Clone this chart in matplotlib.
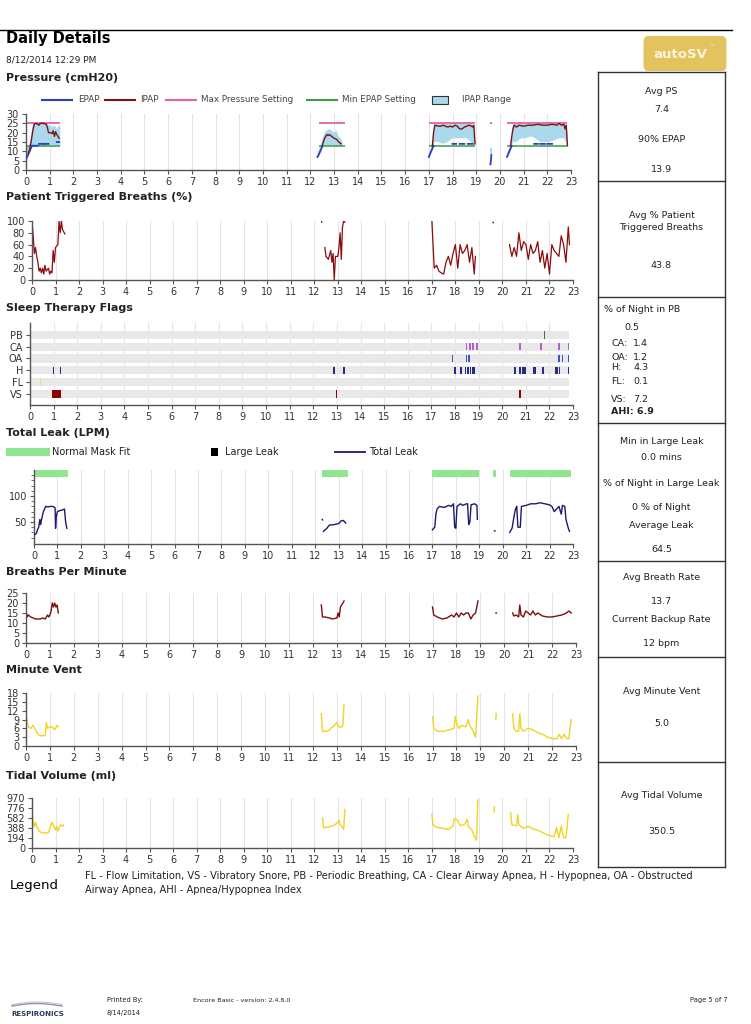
import numpy as np
import matplotlib
matplotlib.use("Agg")
import matplotlib.pyplot as plt
from matplotlib.patches import Rectangle, FancyBboxPatch
from matplotlib.lines import Line2D

plt.rcParams['font.family'] = ['DejaVu Sans']
nan = np.nan

W, H = 751, 1024
HOURS = list(range(0, 24))

# ---------------- Pressure (cmH2O) ----------------
ipap_t = [0.1,0.15,0.2,0.25,0.3,0.35,0.4,0.5,0.55,0.6,0.7,0.8,0.85,0.9,0.95,1.0,1.05,1.1,1.15,1.2,1.25,1.3,1.35,1.4, nan,
          12.5,12.55,12.6,12.7,12.75,12.8,12.9,13.0,13.1,13.2,13.3, nan,
          17.15,17.2,17.25,17.4,17.5,17.6,17.8,17.9,18.0,18.1,18.2,18.3,18.4,18.5,18.6,18.7,18.8,18.85,18.9,18.95, nan,
          20.45,20.5,20.55,20.6,20.7,20.8,21.0,21.2,21.4,21.6,21.8,22.0,22.2,22.4,22.5,22.6,22.7,22.75,22.8,22.85]
ipap_v = [9,11,14,18,22,24.5,25,24.5,24,25,25,24.8,24.5,23,20,20,20,19.5,21,18,20.5,19,18,17, nan,
          13,15,17,19,18.5,19,18,17,16.5,15,14, nan,
          13,20,24,23.5,23.5,24,23,23.5,23,24,23.5,22,22,23,23.5,24,23.5,23,24,14, nan,
          13,18,22,24,23,24,23.5,24,24,24.5,24,24,24.5,24,25,24,24.5,22,24,13]
epap_t = [0.0,0.05,0.1,0.15,0.2,0.25,0.3,0.5, nan,0.55,0.75, nan,0.8,0.95, nan,1.3,1.4, nan,
          12.3,12.35,12.4,12.45,12.5, nan,
          17.0,17.05,17.1,17.15,17.2, nan,18.0,18.15, nan,18.3,18.5, nan,18.65,18.85, nan,
          19.6,19.62,19.64, nan,
          20.3,20.35,20.4,20.45,20.5, nan,21.45,21.6, nan,21.7,21.9, nan,22.0,22.2]
epap_v = [6,7,8.5,10,11.5,13,13,13, nan,14,14, nan,14,14, nan,15,15, nan,
          7,8,9.5,11,12.5, nan,
          7,8.5,10,11.5,13, nan,14,14, nan,14,14, nan,14,14, nan,
          3,5,8, nan,
          7,8.5,10,11.5,13, nan,14,14, nan,14,14, nan,14,14]
range_t = [0.0,0.05,0.1,0.15,0.2,0.25,0.3,0.35,0.4,0.5,0.6,0.7,0.8,0.9,0.95,1.0,1.1,1.2,1.3,1.4,1.45, nan,
           12.3,12.4,12.5,12.6,12.7,12.8,12.9,13.0,13.1,13.2,13.3,13.35, nan,
           17.0,17.1,17.2,17.25,17.4,17.6,17.8,18.0,18.2,18.4,18.6,18.8,18.9,18.95, nan,
           19.58,19.66, nan,
           20.3,20.4,20.5,20.55,20.7,20.9,21.1,21.3,21.5,21.7,21.9,22.1,22.3,22.5,22.7,22.8,22.85]
range_lo = [5,6,8,10,12,13,13,13,13,13,13,13,13,13,13,13,13,13,13,13,13, nan,
            7,9,12,13,13,13,13,13,13,13,13,13, nan,
            7,10,13,15,15,14,15,17,17,17,17,15,13,13, nan,
            8,8, nan,
            7,10,13,15,15,17,17,18,17,15,15,15,16,17,17,15,13]
range_hi = [13,13,13,14,17,21,25,25,25,25,25,25,25,25,24,24,23,24,22,24,23, nan,
            9,12,16,20,21,22,21,20,21,18,17,15, nan,
            9,12,20,25,25,25,25,25,25,25,25,25,24,20, nan,
            12,12, nan,
            9,12,18,25,25,25,25,25,25,25,25,25,25,25,25,24,20]
setting_start = [0.0, 12.35, 17.0, 20.3]
setting_end = [1.45, 13.45, 18.95, 22.85]
max_pressure = 25
min_epap = 13
max_dot_t = [19.6, 19.66]

# ---------------- Patient triggered breaths ----------------
ptb_t = [0.0,0.05,0.1,0.15,0.2,0.25,0.3,0.35,0.4,0.45,0.5,0.55,0.6,0.7,0.75,0.8,0.85,0.9,0.95,1.0,1.1,1.15,1.2,1.25,1.3,1.4, nan,
         12.3,12.32, nan,12.45,12.5,12.6,12.7,12.75,12.8,12.85,12.9,13.0,13.05,13.1,13.15,13.2,13.25,13.3, nan,
         17.0,17.05,17.1,17.2,17.3,17.4,17.5,17.6,17.7,17.8,17.9,18.0,18.1,18.2,18.3,18.4,18.5,18.6,18.7,18.8,18.85, nan,
         19.6,19.62, nan,
         20.3,20.4,20.5,20.6,20.7,20.8,20.9,21.0,21.1,21.2,21.3,21.4,21.5,21.6,21.7,21.8,21.9,22.0,22.1,22.2,22.3,22.4,22.5,22.6,22.7,22.8,22.85]
ptb_v = [100,75,45,55,40,30,15,20,12,20,10,25,15,20,10,15,12,50,30,55,60,100,80,100,85,78, nan,
         100,98, nan,55,40,35,50,30,45,0,40,40,55,80,35,90,100,98, nan,
         100,60,20,25,15,12,10,30,40,25,45,60,20,60,45,50,60,30,55,10,40, nan,
         98,97, nan,
         60,40,55,40,80,50,65,60,35,60,45,50,65,30,50,20,45,10,60,50,45,40,75,60,30,90,60]

# ---------------- Sleep therapy flags ----------------
flag_rows = ['VS', 'FL', 'H', 'OA', 'CA', 'PB']
flag_pb = [21.8]
flag_ca = [18.5, 18.63, 18.76, 18.93, 20.75, 21.65, 22.4, 22.8]
flag_oa = [17.9, 18.5, 18.6, 22.4, 22.55, 22.8]
flag_h = [1.0, 1.3, 12.87, 13.3, 18.0, 18.25, 18.45, 18.55, 18.67, 18.76, 18.8,
          20.55, 20.75, 20.85, 20.9, 20.97, 21.35, 21.4, 21.73, 22.25, 22.33, 22.42, 22.8]
flag_fl = [0.45]
flag_vs_start = [0.95, 12.97, 20.73]
flag_vs_end = [1.33, 13.02, 20.78]

# ---------------- Total leak ----------------
leak_t = [0.0,0.1,0.15,0.2,0.25,0.28,0.3,0.35,0.4,0.5,0.6,0.7,0.8,0.9,0.92,0.95,1.0,1.1,1.2,1.3,1.35,1.4, nan,
          12.3,12.31, nan,12.35,12.5,12.6,12.8,13.0,13.1,13.2,13.3, nan,
          17.0,17.1,17.15,17.2,17.3,17.5,17.7,17.8,17.9,17.95,18.0,18.05,18.2,18.3,18.45,18.5,18.55,18.6,18.65,18.8,18.9,18.92, nan,
          19.65,19.67, nan,
          20.3,20.4,20.5,20.55,20.6,20.65,20.75,20.8,21.0,21.2,21.4,21.6,21.8,22.0,22.1,22.2,22.3,22.4,22.5,22.55,22.65,22.7,22.8,22.85]
leak_v = [25,28,35,40,55,45,50,60,70,80,79,80,80,77,38,60,70,72,73,75,50,38, nan,
          55,54, nan,32,38,44,45,47,52,53,48, nan,
          35,40,65,75,80,78,82,80,85,40,38,80,85,82,85,85,45,50,83,85,82,55, nan,
          33,33, nan,
          30,38,65,75,80,40,40,80,82,85,85,87,85,83,80,70,75,80,65,82,80,55,38,32]
mask_start = [0.0, 12.3, 17.0, 19.6, 20.3]
mask_end = [1.45, 13.4, 19.0, 19.7, 22.9]

# ---------------- Breaths per minute ----------------
bpm_t = [0.0,0.05,0.1,0.2,0.3,0.4,0.5,0.6,0.7,0.8,0.9,0.95,1.0,1.05,1.1,1.15,1.2,1.25,1.3,1.35, nan,
         12.35,12.4,12.5,12.7,12.8,13.0,13.05,13.1,13.15,13.2,13.3, nan,
         17.0,17.05,17.2,17.4,17.6,17.8,17.9,18.0,18.1,18.2,18.3,18.4,18.5,18.6,18.7,18.8,18.9, nan,
         19.65,19.67, nan,
         20.35,20.4,20.5,20.6,20.65,20.7,20.8,20.9,21.0,21.1,21.2,21.3,21.4,21.6,21.8,22.0,22.2,22.4,22.6,22.7,22.8]
bpm_v = [16,13,14,13,12.5,12,12,12,12.5,12,14,13,14,16,20,18,20,18,19,15, nan,
         19,13,13,12.5,12,12.5,15,13,18,19,21, nan,
         18,14,13,12,12.5,14,13,15,13,15,14,15,15,12,14,15,21, nan,
         15,15, nan,
         15,13.5,14,13,19,14,13,16,15,14,16,14,15,13.5,13,13,13.5,14,15,16,15]

# ---------------- Minute vent ----------------
mv_t = [0.0,0.05,0.1,0.2,0.3,0.4,0.5,0.6,0.8,0.85,0.9,1.0,1.1,1.2,1.3,1.35, nan,
        12.35,12.4,12.6,12.7,12.8,12.9,13.0,13.05,13.1,13.2,13.25,13.3, nan,
        17.0,17.05,17.2,17.5,17.7,17.9,17.95,18.0,18.1,18.2,18.4,18.5,18.55,18.6,18.7,18.8,18.9, nan,
        19.65,19.66, nan,
        20.35,20.4,20.5,20.6,20.65,20.7,20.8,21.0,21.2,21.4,21.6,21.8,22.0,22.2,22.3,22.4,22.5,22.6,22.7,22.8]
mv_v = [12,8,6.5,6,7,5.5,4,3.5,3.5,8,6,6.5,6.5,5.5,7,6.5, nan,
        11,5,5,5.5,6.5,7,8,7,6.5,6.5,7,14, nan,
        10,6,5,5,5.5,6,10,8,6,7,6.5,9,7,6.5,5,3,17, nan,
        9,11, nan,
        11,6,5,5,11,6,5,6,5.5,4.5,4,3,2.5,2.5,4,2.5,4,2.5,2.5,9]

# ---------------- Tidal volume ----------------
tv_t = [0.0,0.05,0.1,0.15,0.2,0.3,0.4,0.5,0.6,0.7,0.85,0.9,1.0,1.05,1.1,1.2,1.3,1.35, nan,
        12.35,12.4,12.5,12.7,12.8,12.9,13.0,13.05,13.1,13.2,13.25,13.3, nan,
        17.0,17.05,17.2,17.5,17.7,17.9,17.95,18.1,18.2,18.4,18.5,18.55,18.7,18.8,18.9,18.95, nan,
        19.65,19.66, nan,
        20.35,20.4,20.6,20.65,20.7,20.9,21.1,21.3,21.5,21.7,21.9,22.0,22.2,22.3,22.4,22.5,22.6,22.7,22.8]
tv_v = [740,500,410,500,420,330,300,290,290,300,500,450,350,420,330,450,420,460, nan,
        580,390,400,420,430,460,500,540,450,400,360,750, nan,
        650,450,400,380,360,430,570,540,430,460,560,420,350,230,150,930, nan,
        700,800, nan,
        680,450,430,650,450,380,420,370,350,300,260,240,220,400,200,420,200,200,650]

# ---------------- helpers ----------------
def rect(x0, ytop, x1, ybot):
    return [x0 / W, 1 - ybot / H, (x1 - x0) / W, (ybot - ytop) / H]

def fx(x):
    return np.asarray(x) / W

def fy(y):
    return 1 - np.asarray(y) / H

fig = plt.figure(figsize=(W / 100, H / 100), dpi=100)
fig.patch.set_facecolor('white')

TXT = '#222222'

def style_axes(ax, xright=23.0):
    ax.set_xlim(0, xright)
    ax.set_xticks(HOURS)
    ax.set_xticklabels([str(h) for h in HOURS], fontsize=7, color='#333333')
    for h in HOURS[1:]:
        ax.axvline(h, color='#e4e4e4', lw=0.8, zorder=0)
    for s in ['top', 'right']:
        ax.spines[s].set_visible(False)
    for s in ['left', 'bottom']:
        ax.spines[s].set_color('#555555')
        ax.spines[s].set_linewidth(1.0)
    ax.tick_params(axis='both', direction='out', length=3, width=0.8, color='#555555',
                   labelsize=7, labelcolor='#333333', pad=2)
    ax.set_facecolor('none')

def section_title(y, text):
    fig.text(fx(6), fy(y), text, fontsize=8, fontweight='bold', color=TXT, va='center', ha='left')

# header
fig.add_artist(Line2D([0, fx(732)], [fy(30), fy(30)], color='black', lw=1.0))
fig.text(fx(6), fy(38), 'Daily Details', fontsize=10.5, fontweight='bold', color='black', va='center')
fig.text(fx(6), fy(60), '8/12/2014 12:29 PM', fontsize=6.5, color=TXT, va='center')
badge = FancyBboxPatch((fx(645), fy(69)), fx(80), (69 - 38) / H,
                       boxstyle='round,pad=0.002,rounding_size=0.006',
                       transform=fig.transFigure, facecolor='#e2c35e', edgecolor='none')
fig.add_artist(badge)
fig.text(fx(680), fy(54), 'autoSV', fontsize=9.5, fontweight='bold', color='#fbf3da',
         ha='center', va='center')
fig.text(fx(709), fy(47), '\u2122', fontsize=4, color='#fbf3da', ha='left', va='center')

# ---------------- Pressure ----------------
section_title(78, 'Pressure (cmH20)')
ly = fy(100)
legend_items = [(42, 72, '#2b3fbf', 'EPAP', 78), (105, 135, '#7a1414', 'IPAP', 140),
                (166, 196, '#e462a4', 'Max Pressure Setting', 201), (307, 337, '#3c9a48', 'Min EPAP Setting', 342)]
for x0, x1, c, lab, xt in legend_items:
    fig.add_artist(Line2D([fx(x0), fx(x1)], [ly, ly], color=c, lw=1.5))
    fig.text(fx(xt), ly, lab, fontsize=6.3, color='#444444', va='center')
fig.add_artist(Rectangle((fx(432), fy(104)), fx(16), 8 / H, transform=fig.transFigure,
                         facecolor='#a9d9ea', edgecolor='#333333', lw=0.8))
fig.text(fx(462), ly, 'IPAP Range', fontsize=6.3, color='#444444', va='center')

ax = fig.add_axes(rect(26, 114, 571, 170))
style_axes(ax)
ax.set_ylim(0, 30)
ax.set_yticks([0, 5, 10, 15, 20, 25, 30])
ax.fill_between(range_t, range_lo, range_hi, color='#a9d9ea', lw=0, zorder=1)
ax.hlines([max_pressure] * len(setting_start), setting_start, setting_end, color='#e462a4', lw=1.3, zorder=2)
ax.hlines([min_epap] * len(setting_start), setting_start, setting_end, color='#3c9a48', lw=1.1, zorder=2)
ax.hlines([max_pressure], max_dot_t[0], max_dot_t[1], color='#e462a4', lw=1.3, zorder=2)
ax.plot(epap_t, epap_v, color='#2b3fbf', lw=1.3, zorder=3)
ax.plot(ipap_t, ipap_v, color='#7a1414', lw=1.0, zorder=4)

# ---------------- Patient triggered ----------------
section_title(197, 'Patient Triggered Breaths (%)')
ax = fig.add_axes(rect(32, 221, 573, 280))
style_axes(ax)
ax.set_ylim(0, 100)
ax.set_yticks([0, 20, 40, 60, 80, 100])
ax.plot(ptb_t, ptb_v, color='#8b0c0c', lw=0.9)

# ---------------- Sleep therapy flags ----------------
section_title(308, 'Sleep Therapy Flags')
ax = fig.add_axes(rect(30, 323, 573, 405))
style_axes(ax)
ax.set_ylim(-0.93, 6.0)
ax.set_yticks(range(len(flag_rows)))
ax.set_yticklabels(flag_rows)
for i in range(len(flag_rows)):
    ax.barh(i, 22.85, left=0, height=0.68, color='#e8e8e8', zorder=1)
fw = 0.06
def flags(times, row, color):
    ax.bar(times, 0.62, bottom=row - 0.31, width=fw, color=color, zorder=3)
flags(flag_pb, 5, '#2e7d32')
flags(flag_ca, 4, '#b35ec9')
flags(flag_oa, 3, '#3d50c4')
flags(flag_h, 2, '#2a2a85')
flags(flag_fl, 1, '#f0dc8c')
vs_left = np.array(flag_vs_start)
vs_w = np.array(flag_vs_end) - vs_left
ax.barh([0] * len(vs_left), vs_w, left=vs_left, height=0.62, color='#8b0000', zorder=3)

# ---------------- Total leak ----------------
section_title(433, 'Total Leak (LPM)')
lg = fy(452)
fig.add_artist(Rectangle((fx(6), fy(456)), fx(44), 8 / H, transform=fig.transFigure,
                         facecolor='#90e590', edgecolor='none'))
fig.text(fx(52), lg, 'Normal Mask Fit', fontsize=7, color=TXT, va='center')
fig.add_artist(Rectangle((fx(211), fy(456)), fx(7), 8 / H, transform=fig.transFigure,
                         facecolor='black', edgecolor='none'))
fig.text(fx(225), lg, 'Large Leak', fontsize=7, color=TXT, va='center')
fig.add_artist(Line2D([fx(335), fx(365)], [lg, lg], color='#1a1a6e', lw=1.3))
fig.text(fx(369), lg, 'Total Leak', fontsize=7, color=TXT, va='center')

ax = fig.add_axes(rect(34, 470, 573, 544))
style_axes(ax)
ax.set_ylim(7.7, 150)
ax.set_yticks([50, 100])
ax.set_yticks([20, 30, 40, 60, 70, 80, 90, 110, 120, 130, 140], minor=True)
ax.tick_params(axis='y', which='minor', length=2, color='#555555')
mw = np.array(mask_end) - np.array(mask_start)
ax.barh([143] * len(mask_start), mw, left=mask_start, height=13, color='#90e590', zorder=2, clip_on=False)
ax.plot(leak_t, leak_v, color='#1a1a6e', lw=1.0, zorder=3)

# ---------------- Breaths per minute ----------------
section_title(572, 'Breaths Per Minute')
ax = fig.add_axes(rect(26, 593, 576, 643))
style_axes(ax)
ax.set_ylim(0, 25)
ax.set_yticks([0, 5, 10, 15, 20, 25])
ax.plot(bpm_t, bpm_v, color='#7a0f0f', lw=1.0)

# ---------------- Minute vent ----------------
section_title(670, 'Minute Vent')
ax = fig.add_axes(rect(26, 693, 576, 746))
style_axes(ax)
ax.set_ylim(0, 18)
ax.set_yticks([0, 3, 6, 9, 12, 15, 18])
ax.plot(mv_t, mv_v, color='#efd523', lw=1.0)

# ---------------- Tidal volume ----------------
section_title(776, 'Tidal Volume (ml)')
ax = fig.add_axes(rect(32, 798, 573, 848))
style_axes(ax)
ax.set_ylim(0, 970)
ax.set_yticks([0, 194, 388, 582, 776, 970])
ax.plot(tv_t, tv_v, color='#efd523', lw=1.0)

# ---------------- right panel ----------------
px0, px1 = 598, 725
box_edges = [72, 181, 297, 423, 561, 657, 762, 867]
for y in box_edges:
    fig.add_artist(Line2D([fx(px0), fx(px1)], [fy(y), fy(y)], color='#333333', lw=1.0))
fig.add_artist(Line2D([fx(px0), fx(px0)], [fy(72), fy(867)], color='#333333', lw=1.0))
fig.add_artist(Line2D([fx(px1), fx(px1)], [fy(72), fy(867)], color='#333333', lw=1.0))
cx = fx((px0 + px1) / 2)
PS = 6.8
center_texts = [(92, 'Avg PS'), (109, '7.4'), (140, '90% EPAP'), (170, '13.9'),
                (215, 'Avg % Patient'), (228, 'Triggered Breaths'), (265, '43.8'),
                (442, 'Min in Large Leak'), (458, '0.0 mins'), (484, '% of Night in Large Leak'),
                (507, '0 % of Night'), (526, 'Average Leak'), (549, '64.5'),
                (578, 'Avg Breath Rate'), (602, '13.7'), (620, 'Current Backup Rate'), (644, '12 bpm'),
                (692, 'Avg Minute Vent'), (724, '5.0'),
                (795, 'Avg Tidal Volume'), (831, '350.5')]
for y, t in center_texts:
    fig.text(cx, fy(y), t, fontsize=PS, color=TXT, ha='center', va='center')
fig.text(fx(604), fy(309), '% of Night in PB', fontsize=PS, color=TXT, va='center')
fig.text(fx(624), fy(328), '0.5', fontsize=PS, color=TXT, va='center')
for y, lab, val in [(344, 'CA:', '1.4'), (357, 'OA:', '1.2'), (368, 'H:', '4.3'), (381, 'FL:', '0.1'), (399, 'VS:', '7.2')]:
    fig.text(fx(611), fy(y), lab, fontsize=PS, color=TXT, va='center')
    fig.text(fx(633), fy(y), val, fontsize=PS, color=TXT, va='center')
fig.text(fx(611), fy(411), 'AHI: 6.9', fontsize=PS, fontweight='bold', color=TXT, va='center')

# ---------------- bottom legend ----------------
fig.text(fx(10), fy(885), 'Legend', fontsize=9.5, color='black', va='center')
fig.text(fx(85), fy(876), 'FL - Flow Limitation, VS - Vibratory Snore, PB - Periodic Breathing, CA - Clear Airway Apnea, H - Hypopnea, OA - Obstructed',
         fontsize=7.1, color=TXT, va='center')
fig.text(fx(85), fy(890), 'Airway Apnea, AHI - Apnea/Hypopnea Index', fontsize=7.1, color=TXT, va='center')

# ---------------- footer ----------------
xs = np.linspace(12, 62, 30)
fig.add_artist(Line2D(fx(xs), fy(1006 - 2.5 * np.sin((xs - 12) / 50 * np.pi)), color='#8a94aa', lw=1.0))
fig.add_artist(Line2D(fx(xs), fy(1004.5 - 2.5 * np.sin((xs - 12) / 50 * np.pi)), color='#c0c6d2', lw=0.8))
fig.text(fx(11), fy(1014), 'RESPIRONICS', fontsize=5, fontweight='bold', color='#2b3a5c', va='center')
fig.text(fx(107), fy(1000), 'Printed By:', fontsize=4.8, color=TXT, va='center')
fig.text(fx(107), fy(1013), '8/14/2014', fontsize=4.8, color=TXT, va='center')
fig.text(fx(193), fy(1000), 'Encore Basic - version: 2.4.8.0', fontsize=4.6, color=TXT, va='center')
fig.text(fx(690), fy(1000), 'Page 5 of 7', fontsize=4.8, color=TXT, va='center')

fig.savefig('out.png', dpi=100, facecolor='white')
